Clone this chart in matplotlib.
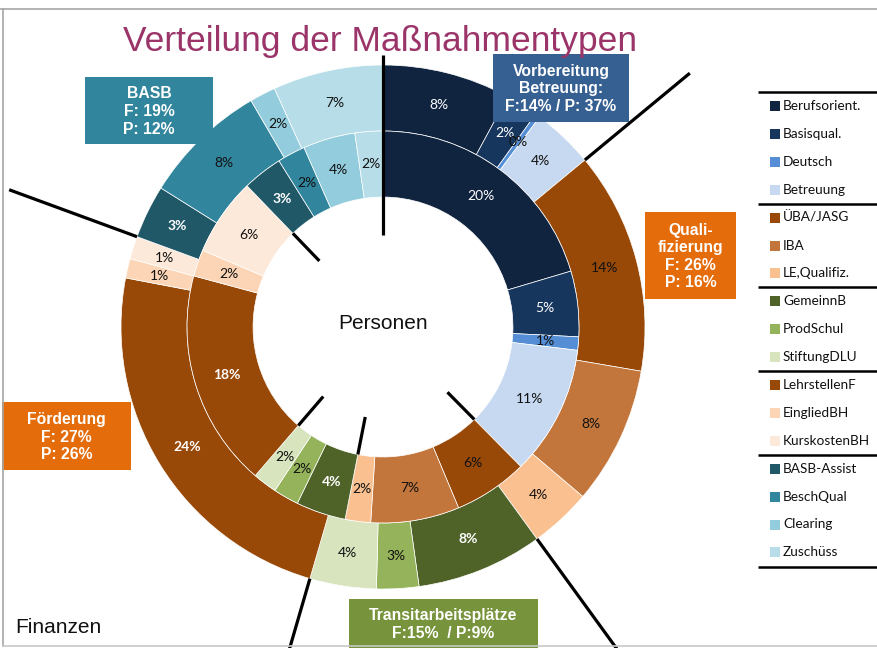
import matplotlib
matplotlib.use('Agg')
import matplotlib.pyplot as plt
import numpy as np
from matplotlib.patches import Rectangle

# ---------------- data ----------------
categories = ['Berufsorient.', 'Basisqual.', 'Deutsch', 'Betreuung',
              'ÜBA/JASG', 'IBA', 'LE,Qualifiz.',
              'GemeinnB', 'ProdSchul', 'StiftungDLU',
              'LehrstellenF', 'EingliedBH', 'KurskostenBH',
              'BASB-Assist', 'BeschQual', 'Clearing', 'Zuschüss']
# outer ring: Finanzen (%)
finanzen = [7.9, 2.0, 0.3, 3.8,
            13.7, 8.5, 3.8,
            7.8, 2.6, 4.1,
            23.5, 1.2, 1.4,
            3.3, 7.7, 1.6, 6.8]
# inner ring: Personen (%)
personen = [20.4, 5.4, 1.1, 10.7,
            6.1, 7.3, 2.1,
            4.1, 2.1, 2.0,
            17.9, 2.2, 6.4,
            3.3, 2.3, 4.3, 2.3]
group_sizes = [4, 3, 3, 3, 4]
group_texts = ['Vorbereitung\nBetreuung:\nF:14% / P: 37%',
               'Quali-\nfizierung\nF: 26%\nP: 16%',
               'Transitarbeitsplätze\nF:15%  / P:9%',
               'Förderung\nF: 27%\nP: 26%',
               'BASB\nF: 19%\nP: 12%']

# ---------------- styles ----------------
colors = ['#10243F', '#17365D', '#558ED5', '#C6D9F1',
          '#984807', '#C3763B', '#FAC090',
          '#4F6228', '#94B35A', '#D7E4BD',
          '#984807', '#FBD5B5', '#FDE9D9',
          '#215867', '#31859C', '#93CDDD', '#B7DEE8']
white_idx = {0, 1, 7, 10, 13}
bold_idx = {7, 10, 13}
group_colors = ['#376092', '#E46C0A', '#77933C', '#E46C0A', '#31859C']

W, H = 877, 648
fig = plt.figure(figsize=(W / 100, H / 100), dpi=100)

cx, cy, R = 383, 327, 262
r_mid = 0.748
r_hole = 0.496
pax = fig.add_axes([(cx - R) / W, (H - cy - R) / H, 2 * R / W, 2 * R / H])

wo, _ = pax.pie(finanzen, radius=1.0, colors=colors, startangle=90, counterclock=False,
                wedgeprops=dict(width=1.0 - r_mid, edgecolor='white', linewidth=0.5))
wi, _ = pax.pie(personen, radius=r_mid, colors=colors, startangle=90, counterclock=False,
                wedgeprops=dict(width=r_mid - r_hole, edgecolor='white', linewidth=0.5))
pax.set_xlim(-1, 1)
pax.set_ylim(-1, 1)
pax.set_aspect('auto')
pax.axis('off')


def add_labels(wedges, values, rl):
    for i, (w, v) in enumerate(zip(wedges, values)):
        a = np.deg2rad((w.theta1 + w.theta2) / 2)
        pax.text(rl * np.cos(a), rl * np.sin(a), f'{v:.0f}%',
                 ha='center', va='center', fontsize=10, family='Lato',
                 fontweight='bold' if i in bold_idx else 'normal',
                 color='white' if i in white_idx else '#111111', zorder=5)


add_labels(wo, finanzen, (1.0 + r_mid) / 2)
add_labels(wi, personen, (r_mid + r_hole) / 2)


def radial(theta_cw, r0, r1):
    phi = np.deg2rad(90 - theta_cw)
    pax.plot([r0 * np.cos(phi), r1 * np.cos(phi)], [r0 * np.sin(phi), r1 * np.sin(phi)],
             color='black', lw=2.3, solid_capstyle='butt', clip_on=False, zorder=6)


# group boundary lines
cum_f = np.cumsum(finanzen)
cum_p = np.cumsum(personen)
ends = np.cumsum(group_sizes)[:-1] - 1
radial(0, 0.35, 1.04)
for e in ends:
    radial(cum_f[e] / cum_f[-1] * 360, 1.0, 1.52)
    radial(cum_p[e] / cum_p[-1] * 360, 0.35, r_hole)

pax.text(0, 0.015, 'Personen', ha='center', va='center', fontsize=15,
         family='Liberation Sans', color='#111111')

# ---------------- overlay (pixel coords) ----------------
ov = fig.add_axes([0, 0, 1, 1], zorder=10)
ov.set_xlim(0, W)
ov.set_ylim(H, 0)
ov.axis('off')
ov.patch.set_alpha(0)

# frame
ov.plot([0, W], [9, 9], color='#A6A6A6', lw=1.2)
ov.plot([3, 3], [9, 646], color='#A6A6A6', lw=1.2)
ov.plot([3, W], [646, 646], color='#C8C8C8', lw=1.2)

ov.text(380, 51, 'Verteilung der Maßnahmentypen', ha='center', va='baseline',
        fontsize=25.5, family='Liberation Sans', color='#9B3468')
ov.text(15, 633, 'Finanzen', ha='left', va='baseline', fontsize=15,
        family='Liberation Sans', color='#111111')

# group boxes
box_geom = [(493, 54, 136, 68), (645, 212, 91, 87), (349, 599, 189, 49),
            (2, 402, 129, 68), (85, 77, 128, 67)]
for (x, y, w, h), txt, c in zip(box_geom, group_texts, group_colors):
    ov.add_patch(Rectangle((x, y), w, h, facecolor=c, edgecolor='none'))
    ov.text(x + w / 2, y + h / 2 + 1, txt, ha='center', va='center', color='white',
            fontsize=11.3, fontweight='bold', family='Liberation Sans', linespacing=1.22)

# legend
ys = [106 + 27.9 * i for i in range(len(categories))]
starts = [0] + list(np.cumsum(group_sizes)[:-1])
seps = [ys[s] - 14 for s in starts] + [ys[-1] + 15]
for y in seps:
    ov.plot([758, W], [y, y], color='black', lw=1.8, solid_capstyle='butt')
for y, cat, c in zip(ys, categories, colors):
    ov.add_patch(Rectangle((770, y - 5), 10, 10, facecolor=c, edgecolor='none'))
    ov.text(783, y, cat, ha='left', va='center', fontsize=9.8, family='Lato',
            color='#111111')

fig.savefig('out.png', dpi=100)
